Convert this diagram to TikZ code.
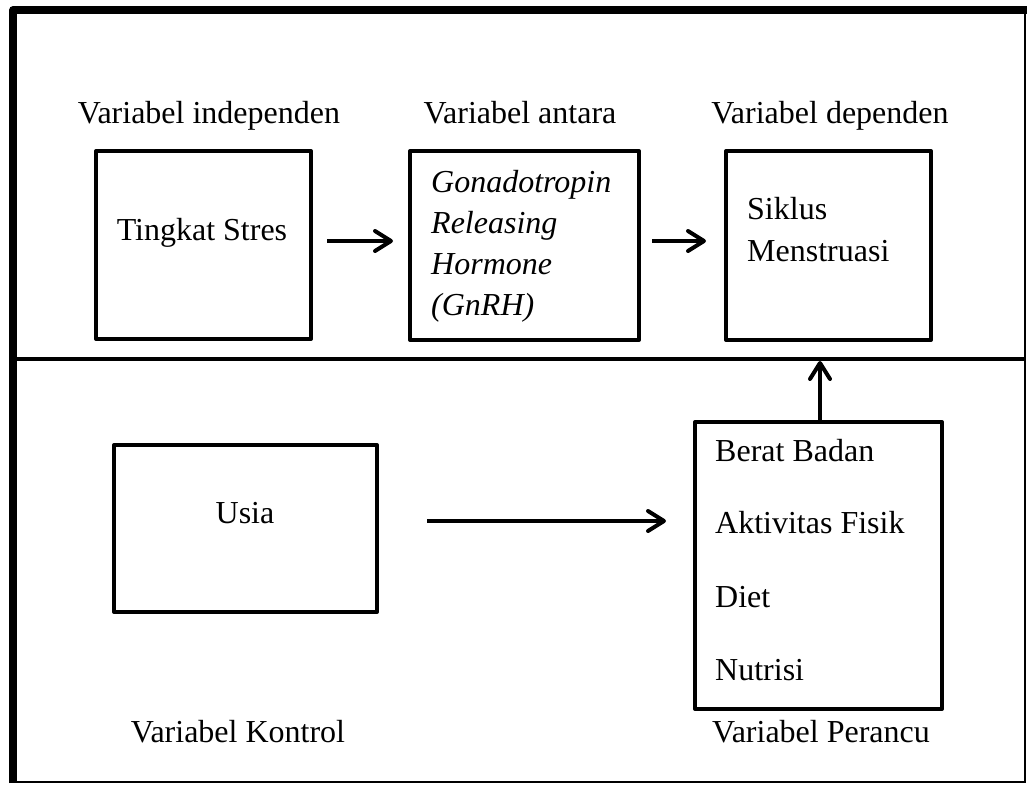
\documentclass[tikz,border=0pt]{standalone}
\usepackage{fontspec}
\setmainfont{Liberation Serif}
\usetikzlibrary{arrows.meta}
\begin{document}
\begin{tikzpicture}[x=1pt,y=-1pt,
  box/.style={draw,line width=4pt,inner sep=0pt,line join=round},
  lbl/.style={inner sep=0pt,font=\fontsize{32}{38}\selectfont},
  itl/.style={lbl,font=\fontsize{32}{38}\selectfont\itshape},
  conn/.style={line width=4pt,-{Straight Barb[length=16pt,width=20pt,round]}}]
\useasboundingbox (0,0) rectangle (1029,785);
\fill[white] (0,0) rectangle (1029,785);
% frame
\draw[line width=2.5pt] (13,10) rectangle (1025,782);
\draw[line width=8pt,line join=round] (13.3,783) -- (13.3,10) -- (1027,10);
% separator
\coordinate (sepL) at (13,359);
\coordinate (sepR) at (1025,359);
\draw[line width=3.5pt] (sepL) -- (sepR);
% boxes
\node[box,minimum width=215pt,minimum height=188pt] (b1) at (203.5,245) {};
\node[box,minimum width=229pt,minimum height=189pt] (b2) at (524.5,245.5) {};
\node[box,minimum width=205pt,minimum height=189pt] (b3) at (828.5,245.5) {};
\node[box,minimum width=263pt,minimum height=167pt] (b4) at (245.5,528.5) {};
\node[box,minimum width=247pt,minimum height=287pt] (b5) at (818.5,565.5) {};
% headings
\node[lbl,anchor=base] (h1) at (209,123) {Variabel independen};
\node[lbl,anchor=base] (h2) at (520,123) {Variabel antara};
\node[lbl,anchor=base] (h3) at (830,123) {Variabel dependen};
\node[lbl,anchor=base] (h4) at (238,742) {Variabel Kontrol};
\node[lbl,anchor=base] (h5) at (821,742) {Variabel Perancu};
% box texts
\node[lbl,anchor=base] (t1) at (202,240) {Tingkat Stres};
\node[itl,anchor=base west] (t2a) at (431,192) {Gonadotropin};
\node[itl,anchor=base west] (t2b) at (431,233) {Releasing};
\node[itl,anchor=base west] (t2c) at (431,274) {Hormone};
\node[itl,anchor=base west] (t2d) at (431,315) {(GnRH)};
\node[lbl,anchor=base west] (t3a) at (747,219) {Siklus};
\node[lbl,anchor=base west] (t3b) at (747,261) {Menstruasi};
\node[lbl,anchor=base] (t4) at (245,523) {Usia};
\node[lbl,anchor=base west] (t5a) at (715,461) {Berat Badan};
\node[lbl,anchor=base west] (t5b) at (715,533) {Aktivitas Fisik};
\node[lbl,anchor=base west] (t5c) at (715,607) {Diet};
\node[lbl,anchor=base west] (t5d) at (715,680) {Nutrisi};
% connectors
\draw[conn,shorten <=14pt,shorten >=15pt] (b1.east |- 0,241) -- (b2.west |- 0,241);
\draw[conn,shorten <=11pt,shorten >=18pt] (b2.east |- 0,241) -- (b3.west |- 0,241);
\draw[conn,shorten <=48pt,shorten >=27pt] (b4.east |- 0,521) -- (b5.west |- 0,521);
\coordinate (up) at (820,361);
\draw[conn] (b5.north -| up) -- (up);
\end{tikzpicture}
\end{document}
